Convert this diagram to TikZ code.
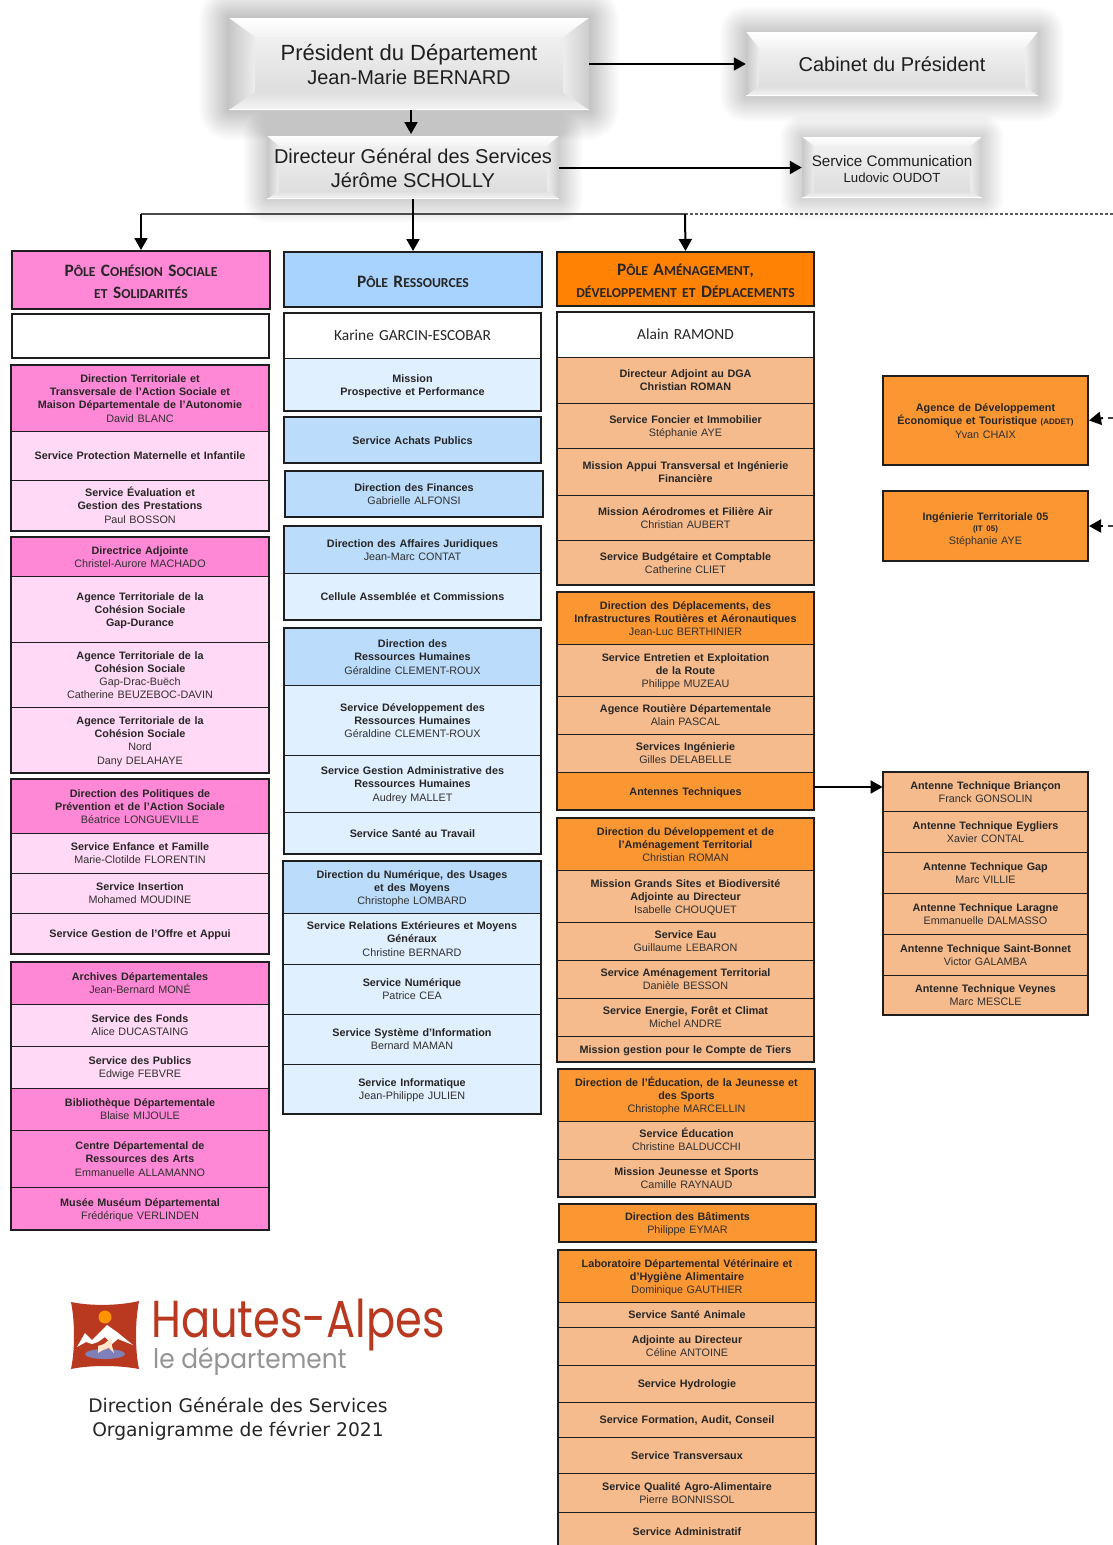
\documentclass[tikz,border=0pt]{standalone}
\usepackage{fontspec}
\usepackage{graphicx}
\setmainfont{Liberation Sans}
\newfontfamily\calib{Carlito}
\newfontfamily\popp{Poppins}
\newfontfamily\deja{DejaVu Sans}
\usetikzlibrary{arrows.meta}
\definecolor{pinkD}{HTML}{FF88D6}
\definecolor{pinkL}{HTML}{FFD9F5}
\definecolor{blueP}{HTML}{A9D3FF}
\definecolor{blueD}{HTML}{BBDCFB}
\definecolor{blueL}{HTML}{E1F0FE}
\definecolor{orgP}{HTML}{FF8205}
\definecolor{orgD}{HTML}{FB9733}
\definecolor{orgL}{HTML}{F5BB8D}
\definecolor{frameC}{HTML}{1E1E1E}
\definecolor{nameC}{HTML}{303030}
\definecolor{logoR}{HTML}{B8391F}
\definecolor{logoP}{HTML}{8080B8}
\newcommand{\nm}[1]{{\mdseries\color{nameC}#1}}
\newcommand{\sm}[1]{{\fontsize{8}{9}\selectfont #1}}
% fake small capitals: \fc{P}{ÔLE}
\newcommand{\fc}[2]{{\fontsize{17.4}{22}\selectfont #1}{\fontsize{13.7}{22}\selectfont #2}}
\newcommand{\fl}[1]{{\fontsize{13.7}{22}\selectfont #1}}
\tikzset{
  cell/.style={draw=frameC,line width=0.9pt,inner sep=0pt,align=center,text=black!85,
    font=\fontsize{10.8}{13.2}\selectfont\bfseries},
  pd/.style={cell,fill=pinkD}, pl/.style={cell,fill=pinkL},
  bd/.style={cell,fill=blueD}, bl/.style={cell,fill=blueL},
  od/.style={cell,fill=orgD}, ol/.style={cell,fill=orgL},
  wh/.style={cell,fill=white,font=\calib\fontsize{15.4}{18}\selectfont},
  pole/.style={cell,line width=2pt,font=\calib\fontsize{16}{22}\selectfont\bfseries},
  frm/.style={draw=frameC,line width=2pt},
  lnk/.style={black,line width=2pt,-{Triangle[length=12pt,width=13pt]}},
  bus/.style={black!70,line width=1.5pt},
  dsh/.style={black!65,line width=1.3pt,dash pattern=on 3pt off 2pt},
  top/.style={inner sep=0pt,align=center,text=black!88}
}
% \cel{name}{x1}{y1}{x2}{y2}{style}{text}
\newcommand{\cel}[7]{%
  \pgfmathsetmacro{\cx}{(#2+#4)/2}\pgfmathsetmacro{\cy}{(#3+#5)/2}%
  \pgfmathsetmacro{\cw}{#4-#2}\pgfmathsetmacro{\ch}{#5-#3}%
  \node[#6,minimum width=\cw pt,minimum height=\ch pt,text width=\cw pt-6pt] (#1) at (\cx,\cy) {\rule{0pt}{11.4pt}#7\rule[-2.8pt]{0pt}{1pt}};}
\newcommand{\frmbox}[4]{\draw[frm] (#1,#2) rectangle (#3,#4);}
% \bev{name}{x1}{y1}{x2}{y2}{bx}{byT}{byB}{shadow}{font}{text}
\newcommand{\bev}[9]{%
  \def\bA{#2}\def\bB{#3}\def\bC{#4}\def\bD{#5}\def\bX{#6}\def\bT{#7}\def\bU{#8}\def\bS{#9}\bevcont{#1}}
\newcommand{\bevcont}[3]{%
  \foreach \i in {1,...,\bS}{%
    \fill[black,opacity=0.009,rounded corners=\i pt] (\bA-\i,\bB-\i) rectangle (\bC+\i,\bD+\i);}
  \fill[white] (\bA,\bB) rectangle (\bC,\bD);
  \pgfmathsetmacro{\iA}{\bA+\bX}\pgfmathsetmacro{\iC}{\bC-\bX}
  \pgfmathsetmacro{\iB}{\bB+\bT}\pgfmathsetmacro{\iD}{\bD-\bU}
  \shade[top color=white,bottom color=black!5] (\bA,\bB) -- (\bC,\bB) -- (\iC,\iB) -- (\iA,\iB) -- cycle;
  \shade[top color=black!13,bottom color=black!4] (\bA,\bD) -- (\bC,\bD) -- (\iC,\iD) -- (\iA,\iD) -- cycle;
  \shade[left color=black!22,right color=black!7] (\bA,\bB) -- (\iA,\iB) -- (\iA,\iD) -- (\bA,\bD) -- cycle;
  \shade[left color=black!7,right color=black!20] (\bC,\bB) -- (\iC,\iB) -- (\iC,\iD) -- (\bC,\bD) -- cycle;
  \shade[top color=black!6,bottom color=black!13] (\iA,\iB) rectangle (\iC,\iD);
  \fill[white] (\bA,\bD-1.5) rectangle (\bC,\bD);
  \pgfmathsetmacro{\cx}{(\bA+\bC)/2}\pgfmathsetmacro{\cy}{(\bB+\bD)/2}
  \pgfmathsetmacro{\cw}{\bC-\bA}\pgfmathsetmacro{\ch}{\bD-\bB}
  \node[top,font=#2,minimum width=\cw pt,minimum height=\ch pt] (#1) at (\cx,\cy) {#3};}
\begin{document}
\begin{tikzpicture}[x=1pt,y=-1pt]
\clip (0,0) rectangle (1113,1545);
\fill[white] (0,0) rectangle (1113,1545);

% top boxes
\bev{pres}{229}{18}{589}{110}{26}{19}{18}{30}{\fontsize{22}{25}\selectfont}{\rule{0pt}{17pt}Président du Département\\[-1pt]{\fontsize{20}{24}\selectfont Jean-Marie BERNARD}}
\bev{cab}{746}{32}{1038}{96}{13}{16}{10}{26}{\fontsize{20}{24}\selectfont}{Cabinet du Président}
\bev{dgs}{267}{136}{559}{199}{12}{10}{8}{24}{\fontsize{20}{24}\selectfont}{\rule{0pt}{17pt}Directeur Général des Services\\Jérôme SCHOLLY}
\bev{com}{802}{137}{982}{198}{12}{9}{7}{22}{\fontsize{15.2}{17}\selectfont}{\rule{0pt}{14pt}Service Communication\\[-1pt]{\fontsize{13.2}{15}\selectfont Ludovic OUDOT}}

% left column
\cel{pc}{12}{251}{270}{309}{pole,fill=pinkD}{\rule{0pt}{18pt}\fc{P}{ÔLE} \fc{C}{OHÉSION} \fc{S}{OCIALE}\\\fl{ET} \fc{S}{OLIDARITÉS}}
\cel{pce}{12}{314}{269}{358}{cell,line width=2pt,fill=white}{}
\cel{c1}{11}{365}{269}{431}{pd}{Direction Territoriale et\\Transversale de l’Action Sociale et\\Maison Départementale de l’Autonomie\\\nm{David BLANC}}
\cel{c2}{11}{431}{269}{480}{pl}{Service Protection Maternelle et Infantile}
\cel{c3}{11}{480}{269}{531}{pl}{Service Évaluation et\\Gestion des Prestations\\\nm{Paul BOSSON}}
\frmbox{11}{365}{269}{531}
\cel{c4}{11}{537}{269}{576}{pd}{Directrice Adjointe\\\nm{Christel-Aurore MACHADO}}
\cel{c5}{11}{576}{269}{642}{pl}{Agence Territoriale de la\\Cohésion Sociale\\Gap-Durance}
\cel{c6}{11}{642}{269}{707}{pl}{Agence Territoriale de la\\Cohésion Sociale\\\nm{Gap-Drac-Buëch}\\\nm{Catherine BEUZEBOC-DAVIN}}
\cel{c7}{11}{707}{269}{773}{pl}{Agence Territoriale de la\\Cohésion Sociale\\\nm{Nord}\\\nm{Dany DELAHAYE}}
\frmbox{11}{537}{269}{773}
\cel{c8}{11}{779}{269}{833}{pd}{Direction des Politiques de\\Prévention et de l’Action Sociale\\\nm{Béatrice LONGUEVILLE}}
\cel{c9}{11}{833}{269}{873}{pl}{Service Enfance et Famille\\\nm{Marie-Clotilde FLORENTIN}}
\cel{c10}{11}{873}{269}{913}{pl}{Service Insertion\\\nm{Mohamed MOUDINE}}
\cel{c11}{11}{913}{269}{954}{pl}{Service Gestion de l’Offre et Appui}
\frmbox{11}{779}{269}{954}
\cel{c12}{11}{962}{269}{1004}{pd}{Archives Départementales\\\nm{Jean-Bernard MONÉ}}
\cel{c13}{11}{1004}{269}{1046}{pl}{Service des Fonds\\\nm{Alice DUCASTAING}}
\cel{c14}{11}{1046}{269}{1088}{pl}{Service des Publics\\\nm{Edwige FEBVRE}}
\cel{c15}{11}{1088}{269}{1130}{pd}{Bibliothèque Départementale\\\nm{Blaise MIJOULE}}
\cel{c16}{11}{1130}{269}{1187}{pd}{Centre Départemental de\\Ressources des Arts\\\nm{Emmanuelle ALLAMANNO}}
\cel{c17}{11}{1187}{269}{1230}{pd}{Musée Muséum Départemental\\\nm{Frédérique VERLINDEN}}
\frmbox{11}{962}{269}{1230}

% middle column
\cel{pr}{284}{252}{542}{307}{pole,fill=blueP}{\rule{0pt}{18pt}\fc{P}{ÔLE} \fc{R}{ESSOURCES}}
\cel{r0}{284}{313}{541}{358}{wh}{\rule{0pt}{13.5pt}Karine GARCIN-ESCOBAR}
\cel{r1}{284}{358}{541}{411}{bl}{Mission\\Prospective et Performance}
\frmbox{284}{313}{541}{411}
\cel{r2}{284}{417}{541}{463}{bd,line width=2pt}{Service Achats Publics}
\cel{r3}{285}{471}{543}{517}{bd,line width=2pt}{Direction des Finances\\\nm{Gabrielle ALFONSI}}
\cel{r4}{284}{526}{541}{573}{bd}{Direction des Affaires Juridiques\\\nm{Jean-Marc CONTAT}}
\cel{r5}{284}{573}{541}{620}{bl}{Cellule Assemblée et Commissions}
\frmbox{284}{526}{541}{620}
\cel{r6}{284}{628}{541}{685}{bd}{Direction des\\Ressources Humaines\\\nm{Géraldine CLEMENT-ROUX}}
\cel{r7}{284}{685}{541}{755}{bl}{Service Développement des\\Ressources Humaines\\\nm{Géraldine CLEMENT-ROUX}}
\cel{r8}{284}{755}{541}{812}{bl}{Service Gestion Administrative des\\Ressources Humaines\\\nm{Audrey MALLET}}
\cel{r9}{284}{812}{541}{854}{bl}{Service Santé au Travail}
\frmbox{284}{628}{541}{854}
\cel{r10}{283}{861}{541}{913}{bd}{Direction du Numérique, des Usages\\et des Moyens\\\nm{Christophe LOMBARD}}
\cel{r11}{283}{913}{541}{964}{bl}{Service Relations Extérieures et Moyens\\Généraux\\\nm{Christine BERNARD}}
\cel{r12}{283}{964}{541}{1014}{bl}{Service Numérique\\\nm{Patrice CEA}}
\cel{r13}{283}{1014}{541}{1064}{bl}{Service Système d’Information\\\nm{Bernard MAMAN}}
\cel{r14}{283}{1064}{541}{1114}{bl}{Service Informatique\\\nm{Jean-Philippe JULIEN}}
\frmbox{283}{861}{541}{1114}

% right column
\cel{pa}{557}{252}{814}{306}{pole,fill=orgP}{\rule{0pt}{18pt}\fc{P}{ÔLE} \fc{A}{MÉNAGEMENT},\\\fl{DÉVELOPPEMENT ET} \fc{D}{ÉPLACEMENTS}}
\cel{a0}{557}{312}{814}{357}{wh}{\rule{0pt}{13.5pt}Alain RAMOND}
\cel{a1}{557}{357}{814}{403}{ol}{Directeur Adjoint au DGA\\Christian ROMAN}
\cel{a2}{557}{403}{814}{448}{ol}{Service Foncier et Immobilier\\\nm{Stéphanie AYE}}
\cel{a3}{557}{448}{814}{495}{ol}{Mission Appui Transversal et Ingénierie\\Financière}
\cel{a4}{557}{495}{814}{540}{ol}{Mission Aérodromes et Filière Air\\\nm{Christian AUBERT}}
\cel{a5}{557}{540}{814}{585}{ol}{Service Budgétaire et Comptable\\\nm{Catherine CLIET}}
\frmbox{557}{312}{814}{585}
\cel{a6}{557}{592}{814}{644}{od}{Direction des Déplacements, des\\Infrastructures Routières et Aéronautiques\\\nm{Jean-Luc BERTHINIER}}
\cel{a7}{557}{644}{814}{696}{ol}{Service Entretien et Exploitation\\de la Route\\\nm{Philippe MUZEAU}}
\cel{a8}{557}{696}{814}{734}{ol}{Agence Routière Départementale\\\nm{Alain PASCAL}}
\cel{a9}{557}{734}{814}{772}{ol}{Services Ingénierie\\\nm{Gilles DELABELLE}}
\cel{a10}{557}{772}{814}{810}{od}{Antennes Techniques}
\frmbox{557}{592}{814}{810}
\cel{a11}{557}{818}{814}{870}{od}{Direction du Développement et de\\l’Aménagement Territorial\\\nm{Christian ROMAN}}
\cel{a12}{557}{870}{814}{922}{ol}{Mission Grands Sites et Biodiversité\\Adjointe au Directeur\\\nm{Isabelle CHOUQUET}}
\cel{a13}{557}{922}{814}{960}{ol}{Service Eau\\\nm{Guillaume LEBARON}}
\cel{a14}{557}{960}{814}{998}{ol}{Service Aménagement Territorial\\\nm{Danièle BESSON}}
\cel{a15}{557}{998}{814}{1036}{ol}{Service Energie, Forêt et Climat\\\nm{Michel ANDRE}}
\cel{a16}{557}{1036}{814}{1062}{ol}{Mission gestion pour le Compte de Tiers}
\frmbox{557}{818}{814}{1062}
\cel{a17}{558}{1069}{815}{1121}{od}{Direction de l’Éducation, de la Jeunesse et\\des Sports\\\nm{Christophe MARCELLIN}}
\cel{a18}{558}{1121}{815}{1159}{ol}{Service Éducation\\\nm{Christine BALDUCCHI}}
\cel{a19}{558}{1159}{815}{1197}{ol}{Mission Jeunesse et Sports\\\nm{Camille RAYNAUD}}
\frmbox{558}{1069}{815}{1197}
\cel{a20}{559}{1204}{816}{1242}{od,line width=2pt}{Direction des Bâtiments\\\nm{Philippe EYMAR}}
\cel{a21}{558}{1250}{816}{1302}{od}{Laboratoire Départemental Vétérinaire et\\d’Hygiène Alimentaire\\\nm{Dominique GAUTHIER}}
\cel{a22}{558}{1302}{816}{1327}{ol}{Service Santé Animale}
\cel{a23}{558}{1327}{816}{1365}{ol}{Adjointe au Directeur\\\nm{Céline ANTOINE}}
\cel{a24}{558}{1365}{816}{1402}{ol}{Service Hydrologie}
\cel{a25}{558}{1402}{816}{1437}{ol}{Service Formation, Audit, Conseil}
\cel{a26}{558}{1437}{816}{1473}{ol}{Service Transversaux}
\cel{a27}{558}{1473}{816}{1512}{ol}{Service Qualité Agro-Alimentaire\\\nm{Pierre BONNISSOL}}
\cel{a28}{558}{1512}{816}{1550}{ol}{Service Administratif}
\frmbox{558}{1250}{816}{1550}

% far right
\cel{addet}{883}{376}{1088}{465}{od,line width=2pt}{Agence de Développement\\Économique et Touristique\sm{ (ADDET)}\\\nm{Yvan CHAIX}}
\cel{it}{883}{491}{1088}{561}{od,line width=2pt}{\rule{0pt}{15pt}Ingénierie Territoriale 05\\[-1.5pt]\sm{(IT 05)}\\[-1pt]\nm{Stéphanie AYE}}
\cel{t1}{883}{772}{1088}{811}{ol}{Antenne Technique Briançon\\\nm{Franck GONSOLIN}}
\cel{t2}{883}{811}{1088}{852}{ol}{Antenne Technique Eygliers\\\nm{Xavier CONTAL}}
\cel{t3}{883}{852}{1088}{893}{ol}{Antenne Technique Gap\\\nm{Marc VILLIE}}
\cel{t4}{883}{893}{1088}{934}{ol}{Antenne Technique Laragne\\\nm{Emmanuelle DALMASSO}}
\cel{t5}{883}{934}{1088}{975}{ol}{Antenne Technique Saint-Bonnet\\\nm{Victor GALAMBA}}
\cel{t6}{883}{975}{1088}{1015}{ol}{Antenne Technique Veynes\\\nm{Marc MESCLE}}
\frmbox{883}{772}{1088}{1015}

% connectors
\coordinate (pd1) at (411,134);
\coordinate (busL) at (141,214);
\coordinate (busR) at (685,214);
\coordinate (busE) at (1113,214);
\coordinate (endA) at (1113,418);
\coordinate (endB) at (1113,526);
\coordinate (antY) at (850,787);
\draw[lnk] (pres.east) -- (cab.west);
\draw[lnk] (pres.south -| pd1) -- (pd1);
\draw[lnk] (dgs.east) -- (com.west);
\draw[bus] (busL) -- (busR);
\draw[dsh] (busR) -- (busE);
\draw[lnk] (dgs.south) -- (pr.north);
\draw[lnk] (busL) -- (pc.north);
\draw[lnk] (busR) -- (pa.north);
\draw[black!75,line width=1.7pt] (endA) -- ++(-5,0);
\draw[black!75,line width=1.7pt] (endB) -- ++(-5,0);
\draw[lnk] (1103,418) -- (addet.east);
\draw[lnk] (1103,526) -- (it.east);
\draw[lnk] (a10.east |- antY) -- (t1.west |- antY);

% logo
\fill[logoR] (71,1302) .. controls (90,1306) and (118,1306) .. (139,1301) .. controls (135,1322) and (135,1350) .. (139,1369) .. controls (118,1365) and (90,1365) .. (71,1369) .. controls (75,1350) and (75,1322) .. cycle;
\fill[orange!85!yellow] (105,1317) circle (6.5);
\fill[white] (77,1347) -- (85,1333) -- (92,1340) -- (107,1325) -- (117,1332) -- (133,1345) -- (118,1339) -- (112,1344) -- (105,1337) -- (98,1342) -- (92,1344) -- (86,1342) -- cycle;
\fill[logoP] (105,1354) ellipse (20 and 5);
\fill[orange!20!white] (98,1346) -- (104,1344) -- (111,1338) -- (112,1346) -- (114,1353) -- (109,1348) -- (103,1350) -- (98,1353) -- cycle;
\node[inner sep=0pt,anchor=base west,text=logoR,font=\popp\fontsize{52}{54}\selectfont] (lg1) at (151,1337) {\scalebox{0.83}[1]{Hautes-Alpes}};
\node[inner sep=0pt,anchor=base west,text=black!42,font=\popp\fontsize{27}{30}\selectfont] (lg2) at (153,1368) {\scalebox{0.92}[1]{le département}};
\node[inner sep=0pt,anchor=center,align=center,text=black!85,font=\deja\fontsize{18.7}{24}\selectfont] (tit) at (238,1419) {Direction Générale des Services\\Organigramme de février 2021};
\end{tikzpicture}
\end{document}
